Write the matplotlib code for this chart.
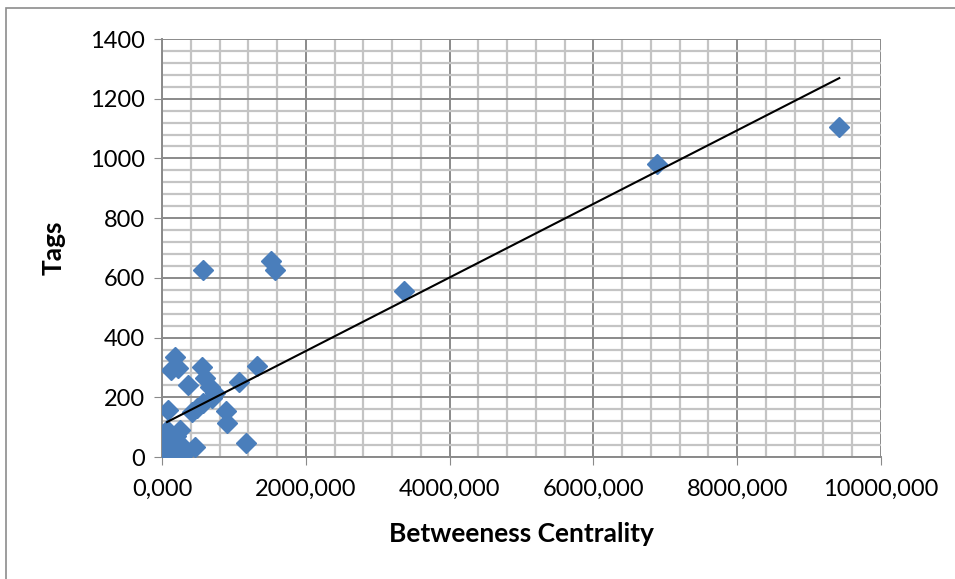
import matplotlib.pyplot as plt
import numpy as np
from matplotlib.patches import Rectangle
from matplotlib.ticker import MultipleLocator, FuncFormatter

plt.rcParams['font.family'] = ['Lato', 'DejaVu Sans']

# betweenness centrality (raw) and tag counts
betweenness = np.array([9.42e6, 6.88e6, 3.36e6, 1.52e6, 1.57e6, 0.57e6,
                        1.32e6, 1.07e6, 1.17e6, 0.89e6, 0.90e6, 0.36e6,
                        0.18e6, 0.125e6, 0.22e6, 0.56e6, 0.60e6, 0.67e6,
                        0.74e6, 0.70e6, 0.57e6, 0.49e6, 0.42e6, 0.08e6,
                        0.07e6, 0.01e6, 0.15e6, 0.25e6, 0.11e6, 0.29e6,
                        0.29e6, 0.46e6, 0.07e6, 0.20e6, 0.33e6])
tags = np.array([1105, 980, 555, 655, 625, 625,
                 305, 251, 47, 155, 115, 240,
                 335, 291, 298, 300, 265, 235,
                 214, 198, 181, 164, 151, 157,
                 90, 57, 57, 90, 23, 33,
                 7, 33, 7, 70, 20])

# linear trendline as shown in the chart (tags per unit of betweenness, intercept)
trend_slope = 1.232e-4
trend_intercept = 108.5
trend_x = [0.07e6, 9.42e6]

x_ticks = [0, 2e6, 4e6, 6e6, 8e6, 10e6]
y_ticks = [0, 200, 400, 600, 800, 1000, 1200, 1400]

fig = plt.figure(figsize=(9.55, 5.79), dpi=100)
fig.patches.append(Rectangle((5.5/955, -0.1), 1.2, 1.1 - 8.5/579,
                             transform=fig.transFigure, fill=False,
                             edgecolor='#8c8c8c', linewidth=1.2))
ax = fig.add_axes([162/955, 122/579, 719/955, 418/579])

ax.xaxis.set_major_locator(MultipleLocator(2e6))
ax.xaxis.set_minor_locator(MultipleLocator(4e5))
ax.yaxis.set_major_locator(MultipleLocator(200))
ax.yaxis.set_minor_locator(MultipleLocator(40))
ax.grid(which='minor', color='#c4c4c4', linewidth=1.6, zorder=0)
ax.grid(which='major', color='#8a8a8a', linewidth=1.4, zorder=0)
ax.set_axisbelow(True)

ax.plot(betweenness, tags, 'D', color='#4a7ebb', markersize=10, zorder=3)

xl = np.array(trend_x)
ax.plot(xl, trend_slope*xl + trend_intercept, color='black', linewidth=1.5, zorder=4)

ax.set_xlim(0, 10e6)
ax.set_ylim(0, 1400)
ax.set_xticks(x_ticks)
ax.set_yticks(y_ticks)
ax.xaxis.set_major_formatter(FuncFormatter(lambda v, p: '%d,000' % round(v/1000)))
ax.tick_params(which='major', direction='out', length=6, color='#8a8a8a',
               labelsize=17, pad=6)
ax.tick_params(axis='x', pad=10)
ax.tick_params(which='minor', length=0)

for s in ['top', 'right']:
    ax.spines[s].set_visible(False)
for s in ['left', 'bottom']:
    ax.spines[s].set_color('#8a8a8a')
    ax.spines[s].set_linewidth(1.4)

ax.set_xlabel('Betweeness Centrality', fontsize=19, fontweight='bold', labelpad=16)
ax.set_ylabel('Tags', fontsize=19, fontweight='bold', labelpad=18)

fig.savefig('out.png', dpi=100)
